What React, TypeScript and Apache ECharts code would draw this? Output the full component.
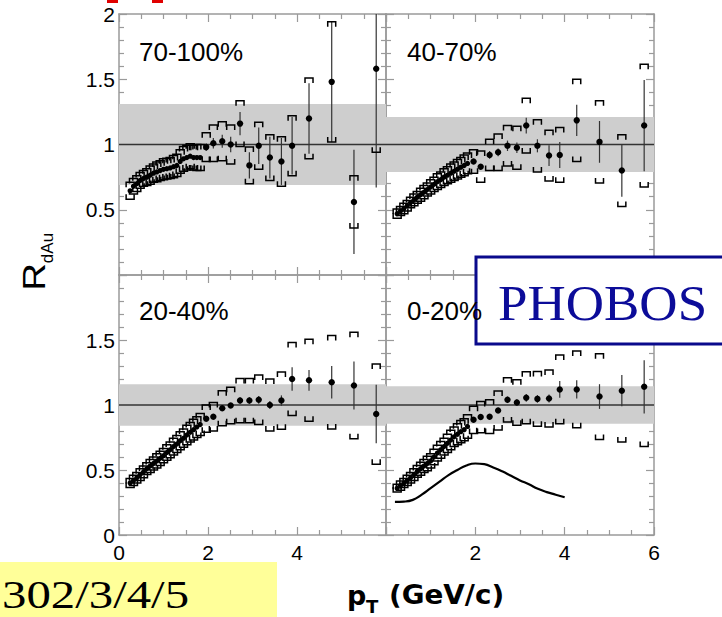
import React, { useEffect, useRef } from "react";
import * as echarts from "echarts";

// pT bin centres (GeV/c), shared by all four centrality panels
const PT = [
  0.25, 0.325, 0.4, 0.475, 0.55, 0.625, 0.7, 0.775, 0.85, 0.925, 1.0, 1.075,
  1.15, 1.225, 1.3, 1.375, 1.45, 1.525, 1.6, 1.675, 1.75, 1.825,
  1.96, 2.12, 2.32, 2.51, 2.72, 2.93, 3.14, 3.39, 3.65, 3.89, 4.27, 4.78, 5.28, 5.78,
];

// 70-100%
const Y_70_100 = [
  0.645, 0.68, 0.7, 0.725, 0.74, 0.75, 0.765, 0.78, 0.79, 0.8, 0.81, 0.815,
  0.82, 0.83, 0.84, 0.87, 0.89, 0.9, 0.91, 0.9, 0.9, 0.9,
  0.98, 1.01, 1.025, 1.0, 1.16, 0.84, 0.99, 0.9, 0.87, 0.99, 1.2, 1.48, 0.56, 1.58,
];
const STAT_70_100 = [
  0, 0, 0, 0, 0, 0, 0, 0, 0, 0, 0, 0, 0, 0, 0, 0, 0, 0, 0, 0, 0, 0,
  0.03, 0.04, 0.05, 0.06, 0.09, 0.1, 0.14, 0.16, 0.18, 0.22, 0.27, 0.46, 0.4, 0.91,
];
const SYS_70_100 = [
  0.065, 0.06, 0.06, 0.06, 0.06, 0.065, 0.07, 0.07, 0.075, 0.075, 0.08, 0.08,
  0.08, 0.085, 0.085, 0.09, 0.095, 0.095, 0.095, 0.095, 0.1, 0.1,
  0.11, 0.14, 0.15, 0.15, 0.175, 0.14, 0.18, 0.175, 0.19, 0.23, 0.31, 0.46, 0.2, 0.64,
];

// 40-70%
const Y_40_70 = [
  0.47, 0.49, 0.51, 0.53, 0.555, 0.575, 0.595, 0.615, 0.635, 0.655, 0.675, 0.695,
  0.715, 0.73, 0.75, 0.765, 0.78, 0.795, 0.81, 0.825, 0.84, 0.855,
  0.87, 0.83, 0.92, 0.94, 0.99, 0.975, 1.145, 0.99, 0.915, 0.92, 1.185, 1.02, 0.8, 1.145,
];
const STAT_40_70 = [
  0, 0, 0, 0, 0, 0, 0, 0, 0, 0, 0, 0, 0, 0, 0, 0, 0, 0, 0, 0, 0, 0,
  0.02, 0.02, 0.03, 0.03, 0.04, 0.04, 0.06, 0.05, 0.08, 0.1, 0.12, 0.16, 0.2, 0.35,
];
const SYS_40_70 = [
  0.035, 0.035, 0.04, 0.04, 0.04, 0.045, 0.045, 0.05, 0.05, 0.05, 0.055, 0.055,
  0.06, 0.06, 0.065, 0.065, 0.07, 0.07, 0.075, 0.075, 0.08, 0.08,
  0.09, 0.12, 0.12, 0.14, 0.155, 0.165, 0.21, 0.2, 0.195, 0.21, 0.315, 0.315, 0.275, 0.47,
];

// 20-40%
const Y_20_40 = [
  0.4, 0.42, 0.44, 0.465, 0.485, 0.51, 0.53, 0.55, 0.57, 0.59, 0.61, 0.635,
  0.655, 0.68, 0.7, 0.725, 0.745, 0.77, 0.79, 0.81, 0.83, 0.85,
  0.895, 0.91, 0.975, 0.996, 1.034, 1.034, 1.04, 1.0, 1.034, 1.2, 1.19, 1.175, 1.15, 0.93,
];
const STAT_20_40 = [
  0, 0, 0, 0, 0, 0, 0, 0, 0, 0, 0, 0, 0, 0, 0, 0, 0, 0, 0, 0, 0, 0,
  0.015, 0.015, 0.02, 0.02, 0.025, 0.025, 0.03, 0.03, 0.04, 0.09, 0.08, 0.125, 0.185, 0.225,
];
const SYS_20_40 = [
  0.035, 0.04, 0.04, 0.045, 0.045, 0.045, 0.05, 0.05, 0.055, 0.055, 0.055, 0.06,
  0.06, 0.065, 0.065, 0.07, 0.07, 0.075, 0.075, 0.08, 0.08, 0.085,
  0.105, 0.11, 0.135, 0.14, 0.17, 0.17, 0.19, 0.2, 0.22, 0.28, 0.315, 0.36, 0.41, 0.385,
];

// 0-20%
const Y_0_20 = [
  0.36, 0.38, 0.4, 0.42, 0.44, 0.465, 0.49, 0.51, 0.53, 0.55, 0.57, 0.6,
  0.63, 0.655, 0.68, 0.705, 0.73, 0.755, 0.775, 0.795, 0.81, 0.835,
  0.886, 0.907, 0.91, 0.958, 1.04, 1.02, 1.055, 1.047, 1.05, 1.12, 1.12, 1.065, 1.11, 1.14,
];
const STAT_0_20 = [
  0, 0, 0, 0, 0, 0, 0, 0, 0, 0, 0, 0, 0, 0, 0, 0, 0, 0, 0, 0, 0, 0,
  0.015, 0.015, 0.02, 0.02, 0.025, 0.025, 0.03, 0.03, 0.03, 0.065, 0.07, 0.095, 0.12, 0.205,
];
const SYS_0_20 = [
  0.03, 0.035, 0.035, 0.04, 0.04, 0.045, 0.045, 0.05, 0.05, 0.055, 0.055, 0.06,
  0.06, 0.065, 0.065, 0.07, 0.075, 0.075, 0.08, 0.085, 0.085, 0.09,
  0.105, 0.12, 0.13, 0.15, 0.17, 0.175, 0.2, 0.21, 0.22, 0.265, 0.295, 0.33, 0.395, 0.46,
];

// Au+Au central reference curve (0-20% panel)
const CURVE_PT = [0.2, 0.4, 0.6, 0.8, 1.0, 1.2, 1.4, 1.6, 1.8, 2.0, 2.2, 2.4, 2.6, 2.8, 3.0, 3.2, 3.4, 3.6, 3.8, 4.0];
const CURVE_Y = [0.255, 0.257, 0.27, 0.31, 0.36, 0.41, 0.46, 0.5, 0.535, 0.55, 0.545, 0.52, 0.49, 0.455, 0.42, 0.39, 0.355, 0.33, 0.31, 0.29];

// normalisation uncertainty bands (half widths around 1)
const BAND = [0.31, 0.21, 0.16, 0.145];
const CENTRALITY = ["70-100%", "40-70%", "20-40%", "0-20%"];
const PANELS = [
  { y: Y_70_100, stat: STAT_70_100, sys: SYS_70_100 },
  { y: Y_40_70, stat: STAT_40_70, sys: SYS_40_70 },
  { y: Y_20_40, stat: STAT_20_40, sys: SYS_20_40 },
  { y: Y_0_20, stat: STAT_0_20, sys: SYS_0_20 },
];

const X_MIN = 0, X_MAX = 6, X_STEP = 2;
const Y_MIN = 0, Y_MAX = 2, Y_STEP = 0.5;

const GRIDS = [
  { left: 119, top: 14, width: 267, height: 261 },
  { left: 386, top: 14, width: 268, height: 261 },
  { left: 119, top: 275, width: 267, height: 260 },
  { left: 386, top: 275, width: 268, height: 260 },
];

const AX = "#9a9a9a";
const TICK_FONT = { color: "#000", fontFamily: "Liberation Sans, Arial, sans-serif", fontSize: 21 };

function renderItem(params: any, api: any) {
  const x = api.value(0), y = api.value(1), st = api.value(2), sy = api.value(3);
  const c = api.coord([x, y]);
  const t = api.coord([x, y + sy]);
  const b = api.coord([x, y - sy]);
  const hw = 4, leg = 5;
  const children: any[] = [];
  if (st > 0) {
    const s1 = api.coord([x, y + st]);
    const s2 = api.coord([x, y - st]);
    children.push({
      type: "line",
      shape: { x1: c[0], y1: s1[1], x2: c[0], y2: s2[1] },
      style: { stroke: "#333", lineWidth: 1.2 },
    });
  }
  children.push({
    type: "polyline",
    shape: { points: [[c[0] - hw, t[1] + leg], [c[0] - hw, t[1]], [c[0] + hw, t[1]], [c[0] + hw, t[1] + leg]] },
    style: { stroke: "#000", fill: "none", lineWidth: 1.5 },
  });
  children.push({
    type: "polyline",
    shape: { points: [[c[0] - hw, b[1] - leg], [c[0] - hw, b[1]], [c[0] + hw, b[1]], [c[0] + hw, b[1] - leg]] },
    style: { stroke: "#000", fill: "none", lineWidth: 1.5 },
  });
  children.push({
    type: "circle",
    shape: { cx: c[0], cy: c[1], r: st > 0 ? 3.2 : 2.6 },
    style: { fill: "#000" },
  });
  return { type: "group", children };
}

function txt(text: string, x: number, y: number, font: string, extra: any = {}) {
  const { align = "left", fill = "#000", ...rest } = extra;
  return {
    type: "text",
    x,
    y,
    z: 100,
    ...rest,
    style: {
      text,
      font,
      fill,
      align,
      textAlign: align,
      verticalAlign: "middle",
      textVerticalAlign: "middle",
    },
  };
}

export default function App() {
  const ref = useRef<HTMLDivElement>(null);
  useEffect(() => {
    if (!ref.current) return;
    const chart = echarts.init(ref.current, undefined, { renderer: "svg" });

    const xAxis: any[] = [];
    const yAxis: any[] = [];
    const series: any[] = [];

    GRIDS.forEach((_, i) => {
      const bottomRow = i >= 2;
      const leftCol = i % 2 === 0;
      const common = {
        gridIndex: i,
        type: "value",
        splitLine: { show: false },
        axisLine: { show: true, onZero: false, lineStyle: { color: AX, width: 1.5 } },
      };
      const xc = {
        ...common,
        min: X_MIN,
        max: X_MAX,
        interval: X_STEP,
        axisTick: { show: true, inside: true, length: 8, lineStyle: { color: AX, width: 1.2 } },
        minorTick: { show: true, splitNumber: 4, length: 5, lineStyle: { color: AX, width: 1.2 } },
      };
      const yc = {
        ...common,
        min: Y_MIN,
        max: Y_MAX,
        interval: Y_STEP,
        axisTick: { show: true, inside: true, length: 8, lineStyle: { color: AX, width: 1.2 } },
        minorTick: { show: true, splitNumber: 5, length: 5, lineStyle: { color: AX, width: 1.2 } },
      };
      xAxis.push({
        ...xc,
        position: "bottom",
        axisLabel: {
          show: bottomRow,
          margin: 7,
          ...TICK_FONT,
          formatter: (v: number) => {
            if (i === 2 && v === X_MAX) return "";
            if (i === 3 && v === X_MIN) return "";
            return String(v);
          },
        },
      });
      xAxis.push({ ...xc, position: "top", axisLabel: { show: false } });
      yAxis.push({
        ...yc,
        position: "left",
        axisLabel: {
          show: leftCol,
          margin: 4,
          ...TICK_FONT,
          formatter: (v: number) => {
            if (i === 0 && v === Y_MIN) return "";
            if (i === 2 && v === Y_MAX) return "";
            return String(v);
          },
        },
      });
      yAxis.push({ ...yc, position: "right", axisLabel: { show: false } });

      // band + unity line
      series.push({
        type: "line",
        xAxisIndex: i * 2,
        yAxisIndex: i * 2,
        data: [[X_MIN, 1], [X_MAX, 1]],
        showSymbol: false,
        silent: true,
        lineStyle: { color: "#333", width: 1.3 },
        z: 2,
        markArea: {
          silent: true,
          itemStyle: { color: "#cecece" },
          data: [[{ yAxis: 1 - BAND[i] }, { yAxis: 1 + BAND[i] }]],
        },
      });

      const p = PANELS[i];
      series.push({
        type: "custom",
        xAxisIndex: i * 2,
        yAxisIndex: i * 2,
        clip: true,
        silent: true,
        z: 5,
        encode: { x: 0, y: 1 },
        data: PT.map((pt, k) => [pt, p.y[k], p.stat[k], p.sys[k]]),
        renderItem,
      });
    });

    series.push({
      type: "line",
      xAxisIndex: 6,
      yAxisIndex: 6,
      data: CURVE_PT.map((pt, k) => [pt, CURVE_Y[k]]),
      smooth: true,
      showSymbol: false,
      silent: true,
      lineStyle: { color: "#000", width: 2.2 },
      z: 4,
    });

    const graphic: any[] = [
      txt(CENTRALITY[0], 139, 52, "26px 'Liberation Sans', Arial, sans-serif"),
      txt(CENTRALITY[1], 407, 52, "26px 'Liberation Sans', Arial, sans-serif"),
      txt(CENTRALITY[2], 139, 311, "26px 'Liberation Sans', Arial, sans-serif"),
      txt(CENTRALITY[3], 407, 311, "26px 'Liberation Sans', Arial, sans-serif"),
      // y axis title R_dAu
      txt("R", 34, 277, "32px 'Liberation Sans', Arial, sans-serif", { align: "center", rotation: Math.PI / 2, scaleX: 1.2 }),
      txt("dAu", 47, 248, "17px 'Liberation Sans', Arial, sans-serif", { align: "center", rotation: Math.PI / 2 }),
      // x axis title p_T (GeV/c)
      txt("p", 347, 595, "bold 27px 'DejaVu Sans', sans-serif"),
      txt("T", 366, 606, "bold 18px 'DejaVu Sans', sans-serif"),
      txt("(GeV/c)", 389, 595, "bold 27px 'DejaVu Sans', sans-serif", { scaleX: 1.03 }),
      // PHOBOS box
      {
        type: "rect",
        z: 99,
        shape: { x: 476, y: 257, width: 270, height: 87 },
        style: { fill: "#fff", stroke: "#0a0a8c", lineWidth: 3 },
      },
      txt("PHOBOS", 498, 303, "50px 'Liberation Serif', 'Times New Roman', serif", { fill: "#0c0c99", scaleX: 1.06 }),
      // yellow reference box
      {
        type: "rect",
        z: 99,
        shape: { x: -5, y: 562, width: 282, height: 60 },
        style: { fill: "#ffff99" },
      },
      txt("302/3/4/5", 2, 595, "40px 'Liberation Serif', 'Times New Roman', serif", { scaleX: 1.22 }),
      // red fragments at the top edge
      { type: "rect", z: 99, shape: { x: 107, y: -2, width: 11, height: 5 }, style: { fill: "#e00000" } },
      { type: "rect", z: 99, shape: { x: 152, y: -2, width: 11, height: 5 }, style: { fill: "#e00000" } },
    ];

    chart.setOption({
      animation: false,
      backgroundColor: "#fff",
      grid: GRIDS.map((g) => ({ ...g, containLabel: false })),
      xAxis,
      yAxis,
      series,
      graphic,
    });
    return () => chart.dispose();
  }, []);
  return (
    <div
      ref={ref}
      style={{ position: "fixed", left: 0, top: 0, width: 722, height: 617, background: "#fff" }}
    />
  );
}
